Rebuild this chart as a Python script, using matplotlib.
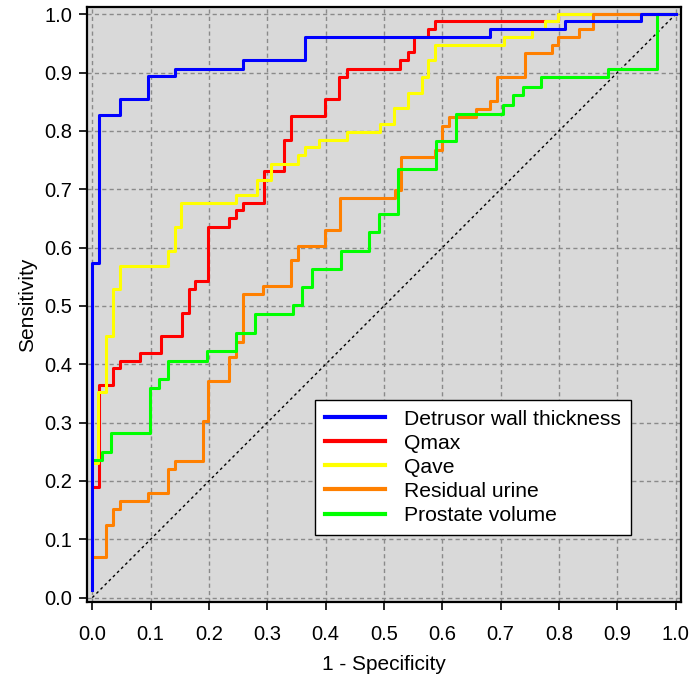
#!/usr/bin/env python3
"""ROC curves for five predictors, drawn as step curves."""

import matplotlib

matplotlib.use("Agg")
import matplotlib.pyplot as plt

plt.rcParams["font.family"] = ["Liberation Sans", "DejaVu Sans"]

LABELS = [
    "Detrusor wall thickness",
    "Qmax",
    "Qave",
    "Residual urine",
    "Prostate volume",
]
COLORS = ["#0000ff", "#ff0000", "#ffff00", "#ff8000", "#00ff00"]

# each list: 1 - specificity where the curve steps up, and sensitivity after the step
wall_fpr = [0.0, 0.0, 0.0115, 0.0475, 0.095, 0.142, 0.259, 0.365, 0.682, 0.811, 0.941, 1.0]
wall_tpr = [0.013, 0.574, 0.827, 0.855, 0.894, 0.907, 0.921, 0.961, 0.975, 0.988, 1.0, 1.0]

qmax_fpr = [0.0, 0.012, 0.036, 0.0475, 0.082, 0.118, 0.153, 0.165, 0.176, 0.199,
            0.235, 0.246, 0.259, 0.295, 0.329, 0.340, 0.399, 0.423, 0.436, 0.528,
            0.541, 0.552, 0.575, 0.588, 0.799, 1.0]
qmax_tpr = [0.189, 0.365, 0.393, 0.406, 0.420, 0.448, 0.488, 0.529, 0.542, 0.635,
            0.650, 0.664, 0.676, 0.731, 0.785, 0.826, 0.854, 0.893, 0.907, 0.921,
            0.935, 0.961, 0.974, 0.988, 1.0, 1.0]

qave_fpr = [0.0, 0.0103, 0.0235, 0.035, 0.0475, 0.129, 0.141, 0.152, 0.246, 0.282,
            0.306, 0.352, 0.365, 0.389, 0.436, 0.493, 0.518, 0.541, 0.565, 0.575,
            0.588, 0.705, 0.754, 0.776, 0.799, 1.0]
qave_tpr = [0.230, 0.353, 0.448, 0.529, 0.569, 0.595, 0.635, 0.676, 0.691, 0.716,
            0.744, 0.758, 0.773, 0.785, 0.798, 0.812, 0.839, 0.865, 0.893, 0.921,
            0.947, 0.961, 0.975, 0.988, 1.0, 1.0]

urine_fpr = [0.0, 0.023, 0.035, 0.0475, 0.095, 0.129, 0.142, 0.189, 0.199, 0.235,
             0.246, 0.259, 0.293, 0.341, 0.353, 0.399, 0.424, 0.519, 0.530, 0.588,
             0.600, 0.612, 0.658, 0.682, 0.694, 0.741, 0.788, 0.799, 0.835, 0.858, 1.0]
urine_tpr = [0.070, 0.124, 0.152, 0.166, 0.179, 0.220, 0.234, 0.302, 0.372, 0.412,
             0.438, 0.521, 0.535, 0.578, 0.603, 0.631, 0.685, 0.699, 0.755, 0.768,
             0.809, 0.824, 0.837, 0.851, 0.892, 0.934, 0.947, 0.961, 0.974, 1.0, 1.0]

prostate_fpr = [0.0, 0.016, 0.032, 0.099, 0.115, 0.130, 0.197, 0.246, 0.279, 0.344,
                0.360, 0.376, 0.426, 0.475, 0.492, 0.524, 0.589, 0.623, 0.704, 0.721,
                0.738, 0.770, 0.884, 0.968, 1.0]
prostate_tpr = [0.236, 0.250, 0.282, 0.360, 0.375, 0.406, 0.422, 0.453, 0.486, 0.501,
                0.532, 0.563, 0.595, 0.626, 0.658, 0.735, 0.782, 0.829, 0.845, 0.861,
                0.875, 0.892, 0.907, 1.0, 1.0]

TICKS = [i / 10 for i in range(11)]
TICK_LABELS = [f"{t:.1f}" for t in TICKS]


def main() -> None:
    fig = plt.figure(figsize=(6.92, 6.79), dpi=100)
    ax = fig.add_axes([0.1253, 0.1130, 0.8584, 0.8762])
    ax.set_facecolor("#d9d9d9")

    ax.set_xlim(-0.0096, 1.0088)
    ax.set_ylim(-0.008, 1.012)
    ax.set_xticks(TICKS, TICK_LABELS)
    ax.set_yticks(TICKS, TICK_LABELS)
    ax.grid(True, color="#8a8a8a", linestyle=(0, (3, 2.3)), linewidth=1.0)
    ax.set_axisbelow(True)

    ax.plot([0, 1], [0, 1], color="black", linestyle=(0, (2, 2.2)), linewidth=1.0)

    curves = [
        (wall_fpr, wall_tpr),
        (qmax_fpr, qmax_tpr),
        (qave_fpr, qave_tpr),
        (urine_fpr, urine_tpr),
        (prostate_fpr, prostate_tpr),
    ]
    handles = [None] * len(curves)
    # blue is drawn last so it lies on top, as in the source
    for idx in [1, 2, 3, 4, 0]:
        fpr, tpr = curves[idx]
        (line,) = ax.step(fpr, tpr, where="post", color=COLORS[idx],
                          linewidth=2.2, label=LABELS[idx])
        handles[idx] = line

    leg = ax.legend(
        handles, LABELS,
        loc="lower left", bbox_to_anchor=(0.384, 0.113),
        fontsize=15.2, frameon=True, fancybox=False, framealpha=1,
        edgecolor="black", handlelength=2.85, handletextpad=0.9,
        labelspacing=0.24, borderpad=0.48, borderaxespad=0,
    )
    leg.get_frame().set_linewidth(1.0)
    for h in leg.get_lines():
        h.set_linewidth(3)

    for side in ["left", "bottom", "top", "right"]:
        ax.spines[side].set_linewidth(1.6)
    ax.tick_params(axis="both", direction="out", length=5.5, width=1.2,
                   labelsize=14.5)
    ax.tick_params(axis="x", pad=11)
    ax.tick_params(axis="y", pad=5)

    ax.set_xlabel("1 - Specificity", fontsize=15, labelpad=8)
    ax.set_ylabel("Sensitivity", fontsize=15, labelpad=5)

    fig.savefig("out.png", dpi=100)
    plt.close(fig)


if __name__ == "__main__":
    main()
